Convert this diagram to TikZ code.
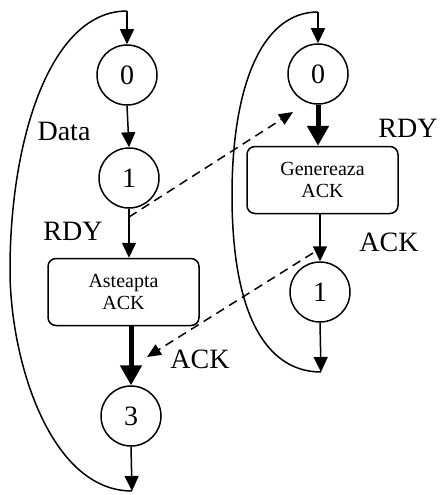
\documentclass[tikz,border=0pt]{standalone}
\usepackage{fontspec}
\setmainfont{Liberation Serif}
\usetikzlibrary{arrows.meta,calc}
\tikzset{
  state/.style={draw,circle,line width=1.5pt,minimum size=60pt,inner sep=0pt,font=\fontsize{28}{30}\selectfont},
  action/.style={draw,rounded corners=8pt,line width=1.5pt,minimum width=151pt,minimum height=67pt,inner sep=0pt,align=center,font=\fontsize{20}{22}\selectfont},
  lbl/.style={font=\fontsize{28}{30}\selectfont,inner sep=0pt},
  flow/.style={line width=1.5pt,-{Triangle[length=15pt,width=14pt]}},
  bigflow/.style={line width=5pt,-{Triangle[length=20pt,width=21pt]}},
  signal/.style={line width=1.5pt,dash pattern=on 9pt off 6pt,-{Triangle[length=14pt,width=12pt]}},
  loop/.style={line width=1.5pt}
}
\begin{document}
\begin{tikzpicture}[x=1pt,y=-1pt]
\useasboundingbox (0,0) rectangle (441,495);

% sender column
\coordinate (Ltop) at (127,11);
\node[state] (L0) at (127,75) {0};
\node[state] (L1) at (129,178) {1};
\node[action] (LA) at (123.5,292) {Asteapta\\ACK};
\node[state] (L3) at (131,416) {3};
\coordinate (Lbot) at (132,491);

% receiver column
\coordinate (Rtop) at (318,12);
\node[state] (R0) at (318,74) {0};
\node[action] (RA) at (322.5,180) {Genereaza\\ACK};
\node[state] (R1) at (320,292) {1};
\coordinate (Rbot) at (321,372);

% labels
\node[lbl] at (64,131) {Data};
\node[lbl] at (73,231) {RDY};
\node[lbl] at (408,128) {RDY};
\node[lbl] at (389,242) {ACK};
\node[lbl] at (200,359) {ACK};

% sender transitions
\draw[flow] (Ltop) -- (L0.north);
\draw[flow] (L0.south) -- (L1.north);
\draw[flow] (L1.south) -- (L1.south |- LA.north);
\draw[bigflow] (L3.north |- LA.south) -- (L3.north);
\draw[flow] (L3.south) -- (Lbot);
\draw[loop] (Lbot) .. controls (50,491) and (10,360) .. (10,270)
                  .. controls (10,140) and (50,11) .. (Ltop);

% receiver transitions
\draw[flow] (Rtop) -- (R0.north);
\draw[bigflow] (R0.south) -- (R0.south |- RA.north);
\draw[flow] (R1.north |- RA.south) -- (R1.north);
\draw[flow] (R1.south) -- (Rbot);
\draw[loop] (Rbot) .. controls (272,372) and (232,325) .. (232,195)
                  .. controls (232,90) and (260,12) .. (Rtop);

% handshake signals
\coordinate (s1) at (129,217);
\coordinate (e1) at (293,112);
\coordinate (s2) at (313,253);
\coordinate (e2) at (147,357);
\draw[signal] (s1) -- (e1);
\draw[signal] (s2) -- (e2);
\end{tikzpicture}
\end{document}
